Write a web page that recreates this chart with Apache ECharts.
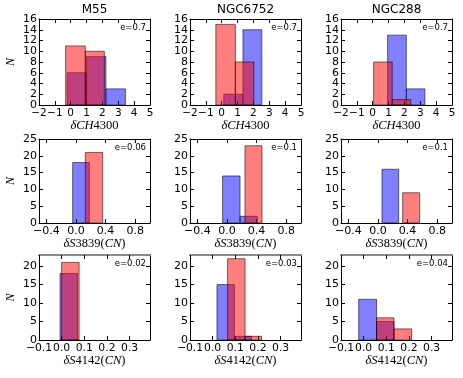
<!DOCTYPE html>
<html><head><meta charset="utf-8">
<script src="https://cdn.jsdelivr.net/npm/echarts@6/dist/echarts.min.js"></script>
<style>html,body{margin:0;padding:0;background:#fff}#c{width:463px;height:378px}</style>
</head><body><div id="c"></div>
<script>
// ---- data: histogram bins [leftEdge, rightEdge, count] ----
const clusters = ['M55', 'NGC6752', 'NGC288'];
const eLabels = [['e=0.7', 'e=0.7', 'e=0.7'], ['e=0.06', 'e=0.1', 'e=0.1'], ['e=0.02', 'e=0.03', 'e=0.04']];

const m55CHBlue = [[-0.22, 1.0, 6], [1.0, 2.22, 9], [2.22, 3.45, 3]];
const m55CHRed = [[-0.32, 0.92, 11], [0.92, 2.12, 10]];
const ngc6752CHBlue = [[0.13, 1.34, 2], [1.34, 2.53, 14]];
const ngc6752CHRed = [[-0.37, 0.86, 15], [0.86, 2.03, 8]];
const ngc288CHBlue = [[0.94, 2.12, 13], [2.12, 3.29, 3]];
const ngc288CHRed = [[0.06, 1.23, 8], [1.23, 2.40, 1]];

const m55S3839Blue = [[-0.045, 0.18, 18]];
const m55S3839Red = [[0.126, 0.361, 21]];
const ngc6752S3839Blue = [[-0.06, 0.176, 14], [0.176, 0.41, 2]];
const ngc6752S3839Red = [[0.243, 0.473, 23]];
const ngc288S3839Blue = [[0.054, 0.279, 16]];
const ngc288S3839Red = [[0.333, 0.563, 9]];

const m55S4142Blue = [[-0.007, 0.07, 18]];
const m55S4142Red = [[0.0, 0.077, 21]];
const ngc6752S4142Blue = [[0.019, 0.096, 15], [0.096, 0.172, 1]];
const ngc6752S4142Red = [[0.066, 0.143, 22], [0.143, 0.216, 1]];
const ngc288S4142Blue = [[-0.022, 0.057, 11], [0.057, 0.134, 5]];
const ngc288S4142Red = [[0.057, 0.134, 6], [0.134, 0.212, 3]];

const ch4300Ticks = [-2, -1, 0, 1, 2, 3, 4, 5];
const s3839Ticks = [-0.4, 0.0, 0.4, 0.8];
const s4142Ticks = [-0.1, 0.0, 0.1, 0.2, 0.3];
const nTicksRow1 = [0, 2, 4, 6, 8, 10, 12, 14, 16];
const nTicksRow2 = [0, 5, 10, 15, 20, 25];
const nTicksRow3 = [0, 5, 10, 15, 20];

// ---- layout ----
const panels = [
  [[m55CHBlue, m55CHRed], [ngc6752CHBlue, ngc6752CHRed], [ngc288CHBlue, ngc288CHRed]],
  [[m55S3839Blue, m55S3839Red], [ngc6752S3839Blue, ngc6752S3839Red], [ngc288S3839Blue, ngc288S3839Red]],
  [[m55S4142Blue, m55S4142Red], [ngc6752S4142Blue, ngc6752S4142Red], [ngc288S4142Blue, ngc288S4142Red]]
];
const xTicks = [ch4300Ticks, s3839Ticks, s4142Ticks];
const yTicks = [nTicksRow1, nTicksRow2, nTicksRow3];
const xRange = [[-2, 5], [-0.5, 1.0], [-0.1, 0.39]];
const yRange = [[0, 16], [0, 25], [0, 23]];
const xDecimals = [0, 1, 1];
const xFont = [10.5, 11, 10.8];
const xNames = ['{i|δCH}{u|4300}', '{i|δS}{u|3839(}{i|CN}{u|)}', '{i|δS}{u|4142(}{i|CN}{u|)}'];

const colLeft = [39, 190, 341], colW = 111;
const rowTop = [19, 139, 255], rowH = [86, 84, 85];

const SANS = 'DejaVu Sans';
const SERIF = 'Liberation Serif';
const fmtMinus = (s) => String(s).replace('-', '\u2212');

const grids = [], xAxes = [], yAxes = [], series = [], graphics = [];

function barRenderer(fill) {
  return function (params, api) {
    const x0 = api.value(0), x1 = api.value(1), h = api.value(2);
    const pTop = api.coord([x0, h]);
    const pBot = api.coord([x1, 0]);
    return {
      type: 'rect',
      shape: { x: pTop[0], y: pTop[1], width: pBot[0] - pTop[0], height: pBot[1] - pTop[1] },
      style: { fill: fill, stroke: 'rgba(0,0,0,0.55)', lineWidth: 1 }
    };
  };
}

for (let r = 0; r < 3; r++) {
  // split y tick labels into two interleaved sets so no label box overlaps another
  const yEven = yTicks[r].filter((v, i) => i % 2 === 0);
  const yOdd = yTicks[r].filter((v, i) => i % 2 === 1);
  for (let c = 0; c < 3; c++) {
    const g = r * 3 + c;
    grids.push({ left: colLeft[c], top: rowTop[r], width: colW, height: rowH[r] });
    const tickStyle = { show: true, inside: true, length: 4, lineStyle: { color: '#000', width: 1 } };
    const lineStyle = { show: true, onZero: false, lineStyle: { color: '#000', width: 1 } };
    const topLine = r === 2
      ? { show: true, onZero: false, lineStyle: { color: '#8a8a8a', width: 2 } }
      : lineStyle;
    xAxes.push({
      type: 'value', gridIndex: g, position: 'bottom',
      min: xRange[r][0], max: xRange[r][1],
      axisLine: lineStyle,
      axisTick: Object.assign({ customValues: xTicks[r] }, tickStyle),
      axisLabel: {
        customValues: xTicks[r], margin: 3, fontFamily: SANS, fontSize: xFont[r], color: '#000',
        lineHeight: 10, showMinLabel: true, showMaxLabel: true,
        formatter: (v) => fmtMinus(Number(v).toFixed(xDecimals[r]))
      },
      splitLine: { show: false },
      name: xNames[r], nameLocation: 'middle', nameGap: 13,
      nameTextStyle: {
        fontFamily: SERIF, fontSize: 12, color: '#000',
        rich: {
          i: { fontFamily: SERIF, fontStyle: 'italic', fontSize: 12.5, color: '#000' },
          u: { fontFamily: SERIF, fontSize: 12.5, color: '#000' }
        }
      }
    });
    xAxes.push({
      type: 'value', gridIndex: g, position: 'top',
      min: xRange[r][0], max: xRange[r][1],
      axisLine: topLine,
      axisTick: Object.assign({ customValues: xTicks[r] }, tickStyle),
      axisLabel: { show: false }, splitLine: { show: false }
    });
    const yLabelBase = { margin: 2, fontFamily: SANS, fontSize: 11, color: '#000', showMinLabel: true, showMaxLabel: true };
    yAxes.push({
      type: 'value', gridIndex: g, position: 'left',
      min: yRange[r][0], max: yRange[r][1],
      axisLine: lineStyle,
      axisTick: Object.assign({ customValues: yTicks[r] }, tickStyle),
      axisLabel: Object.assign({ customValues: yEven }, yLabelBase),
      splitLine: { show: false },
      name: c === 0 ? 'N' : '', nameLocation: 'middle', nameGap: 22,
      nameTextStyle: { fontFamily: SERIF, fontStyle: 'italic', fontSize: 12, color: '#000' }
    });
    yAxes.push({
      type: 'value', gridIndex: g, position: 'right',
      min: yRange[r][0], max: yRange[r][1],
      axisLine: lineStyle,
      axisTick: Object.assign({ customValues: yTicks[r] }, tickStyle),
      axisLabel: { show: false }, splitLine: { show: false }
    });
    yAxes.push({
      type: 'value', gridIndex: g, position: 'left',
      min: yRange[r][0], max: yRange[r][1],
      axisLine: { show: false, onZero: false }, axisTick: { show: false },
      axisLabel: Object.assign({ customValues: yOdd, show: yOdd.length > 0 }, yLabelBase),
      splitLine: { show: false }
    });
    const [blue, red] = panels[r][c];
    series.push({
      type: 'custom', xAxisIndex: 2 * g, yAxisIndex: 3 * g,
      renderItem: barRenderer('rgba(0,0,255,0.5)'), data: blue,
      encode: { x: [0, 1], y: 2 }, silent: true
    });
    series.push({
      type: 'custom', xAxisIndex: 2 * g, yAxisIndex: 3 * g,
      renderItem: barRenderer('rgba(255,0,0,0.5)'), data: red,
      encode: { x: [0, 1], y: 2 }, silent: true
    });
    graphics.push({
      type: 'text', right: 463 - (colLeft[c] + colW) + 4, top: rowTop[r] + 4,
      style: { text: eLabels[r][c], font: '8.5px ' + SANS, fill: '#000' }
    });
  }
}
for (let c = 0; c < 3; c++) {
  graphics.push({
    type: 'text', x: colLeft[c] + colW / 2, y: 10,
    style: { text: clusters[c], font: '12px ' + SANS, fill: '#000', textAlign: 'center', textVerticalAlign: 'middle' }
  });
}

const chart = echarts.init(document.getElementById('c'), null, { renderer: 'canvas' });
chart.setOption({
  animation: false,
  backgroundColor: '#fff',
  grid: grids, xAxis: xAxes, yAxis: yAxes, series: series, graphic: graphics
});
</script></body></html>
